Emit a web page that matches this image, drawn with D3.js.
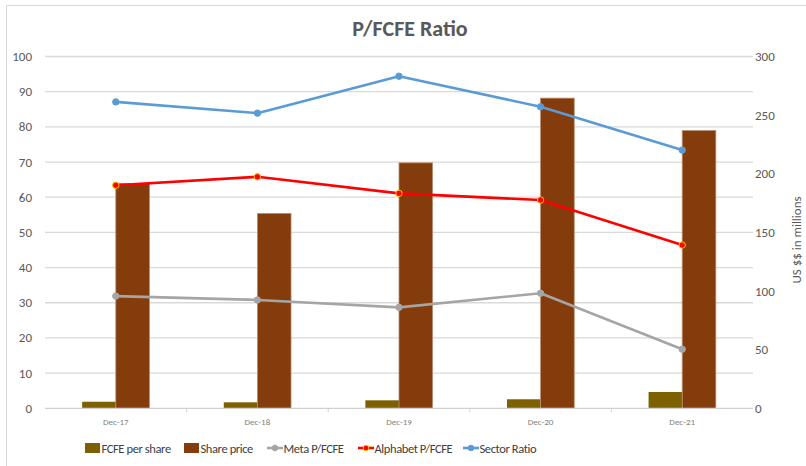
<!DOCTYPE html>
<html lang="en">
<head>
<meta charset="UTF-8"/>
<title>P/FCFE Ratio</title>
<script src="https://d3js.org/d3.v7.min.js"></script>
<style>
  body { margin: 0; background: #fff; }
  text { font-family: Carlito, "Liberation Sans Narrow", "Open Sans", sans-serif; }
</style>
</head>
<body>
<script>
// ***Data***
var categories = ["Dec-17", "Dec-18", "Dec-19", "Dec-20", "Dec-21"];
var fcfePerShare = [5.6, 5.1, 6.8, 7.7, 13.9];         // right axis
var sharePrice = [191.8, 166.2, 209.3, 264.5, 236.9];  // right axis
var metaRatio = [31.9, 30.8, 28.7, 32.7, 16.8];        // left axis
var alphabetRatio = [63.4, 65.8, 61.1, 59.2, 46.4];
var sectorRatio = [87.1, 83.9, 94.4, 85.7, 73.4];
var leftTicks = [0, 10, 20, 30, 40, 50, 60, 70, 80, 90, 100];
var rightTicks = [0, 50, 100, 150, 200, 250, 300];

var w = 806, h = 466;
var plotLeft = 45, plotRight = 753, plotTop = 56.5, plotBottom = 408.3;

var svg = d3.select("body").append("svg")
	.attr("width", w)
	.attr("height", h);

// chart border (top + left visible)
svg.append("path")
	.attr("d", "M6.5," + h + "V5.5H" + w)
	.attr("fill", "none")
	.attr("stroke", "#d9d9d9");

var x0 = d3.scaleBand().domain(categories).range([plotLeft, plotRight]).padding(0);
var barGroup = x0.bandwidth() * 0.475;
var x1 = d3.scaleBand().domain(["fcfe", "price"]).range([-barGroup / 2, barGroup / 2]);
var yL = d3.scaleLinear().domain([0, 100]).range([plotBottom, plotTop]);
var yR = d3.scaleLinear().domain([0, 300]).range([plotBottom, plotTop]);

// gridlines
svg.append("g").selectAll("line")
	.data(leftTicks.filter(function(d) { return d > 0; }))
	.enter().append("line")
	.attr("x1", plotLeft).attr("x2", plotRight)
	.attr("y1", function(d) { return yL(d); })
	.attr("y2", function(d) { return yL(d); })
	.attr("stroke", "#d9d9d9")
	.attr("stroke-width", 1.3);

// left axis labels
svg.append("g").selectAll("text")
	.data(leftTicks)
	.enter().append("text")
	.attr("x", 32)
	.attr("y", function(d) { return yL(d) + 4.5; })
	.attr("text-anchor", "end")
	.attr("font-size", 13)
	.attr("fill", "#595959")
	.text(function(d) { return d; });

// right axis labels
svg.append("g").selectAll("text")
	.data(rightTicks)
	.enter().append("text")
	.attr("x", 755)
	.attr("y", function(d) { return yR(d) + 4.5; })
	.attr("text-anchor", "start")
	.attr("font-size", 13)
	.attr("fill", "#595959")
	.text(function(d) { return d; });

svg.append("text")
	.attr("transform", "translate(801,240) rotate(-90)")
	.attr("text-anchor", "middle")
	.attr("font-size", 13)
	.attr("fill", "#595959")
	.text("US $$ in millions");

// bars
var bars = svg.append("g");
bars.selectAll("rect.fcfe")
	.data(fcfePerShare)
	.enter().append("rect")
	.attr("class", "fcfe")
	.attr("x", function(d, i) { return x0(categories[i]) + x0.bandwidth() / 2 + x1("fcfe"); })
	.attr("width", x1.bandwidth())
	.attr("y", function(d) { return yR(d); })
	.attr("height", function(d) { return plotBottom - yR(d); })
	.attr("fill", "#7f6000");

bars.selectAll("rect.price")
	.data(sharePrice)
	.enter().append("rect")
	.attr("class", "price")
	.attr("x", function(d, i) { return x0(categories[i]) + x0.bandwidth() / 2 + x1("price"); })
	.attr("width", x1.bandwidth())
	.attr("y", function(d) { return yR(d); })
	.attr("height", function(d) { return plotBottom - yR(d); })
	.attr("fill", "#843c0c")
	.attr("stroke", "#b98f73")
	.attr("stroke-width", 0.8);

// x axis
svg.append("line")
	.attr("x1", plotLeft).attr("x2", plotRight)
	.attr("y1", plotBottom).attr("y2", plotBottom)
	.attr("stroke", "#d0d0d0").attr("stroke-width", 1.3);
svg.append("g").selectAll("line")
	.data(categories.slice(1))
	.enter().append("line")
	.attr("x1", function(d) { return x0(d); })
	.attr("x2", function(d) { return x0(d); })
	.attr("y1", plotBottom).attr("y2", plotBottom + 4)
	.attr("stroke", "#d0d0d0");
svg.append("g").selectAll("text")
	.data(categories)
	.enter().append("text")
	.attr("x", function(d) { return x0(d) + x0.bandwidth() / 2; })
	.attr("y", 425)
	.attr("text-anchor", "middle")
	.attr("font-size", 9)
	.attr("fill", "#7f7f7f")
	.text(function(d) { return d; });

// lines
var series = [
	{ name: "Meta P/FCFE", values: metaRatio, color: "#a5a5a5", marker: "#a5a5a5" },
	{ name: "Alphabet P/FCFE", values: alphabetRatio, color: "#ff0000", marker: "#ffc000" },
	{ name: "Sector Ratio", values: sectorRatio, color: "#5b9bd5", marker: "#5b9bd5" }
];
var line = d3.line()
	.x(function(d, i) { return x0(categories[i]) + x0.bandwidth() / 2; })
	.y(function(d) { return yL(d); });

series.forEach(function(s) {
	svg.append("path")
		.datum(s.values)
		.attr("d", line)
		.attr("fill", "none")
		.attr("stroke", s.color)
		.attr("stroke-width", 2.6)
		.attr("stroke-linejoin", "round");
	svg.append("g").selectAll("circle")
		.data(s.values)
		.enter().append("circle")
		.attr("cx", function(d, i) { return x0(categories[i]) + x0.bandwidth() / 2; })
		.attr("cy", function(d) { return yL(d); })
		.attr("r", 3.2)
		.attr("fill", s.color)
		.attr("stroke", s.marker)
		.attr("stroke-width", 1);
});

// title
svg.append("text")
	.attr("x", 410)
	.attr("y", 36)
	.attr("text-anchor", "middle")
	.attr("font-size", 22)
	.attr("font-weight", "bold")
	.attr("fill", "#595959")
	.text("P/FCFE Ratio");

// legend
var legendItems = [
	{ name: "FCFE per share", type: "rect", color: "#7f6000", x: 85 },
	{ name: "Share price", type: "rect", color: "#843c0c", x: 184 },
	{ name: "Meta P/FCFE", type: "line", color: "#a5a5a5", marker: "#a5a5a5", x: 267 },
	{ name: "Alphabet P/FCFE", type: "line", color: "#ff0000", marker: "#ffc000", x: 358 },
	{ name: "Sector Ratio", type: "line", color: "#5b9bd5", marker: "#5b9bd5", x: 463 }
];
var lg = svg.append("g").selectAll("g")
	.data(legendItems)
	.enter().append("g")
	.attr("transform", function(d) { return "translate(" + d.x + ",448)"; });
lg.filter(function(d) { return d.type === "rect"; })
	.append("rect")
	.attr("x", 0).attr("y", -5)
	.attr("width", 15).attr("height", 10)
	.attr("fill", function(d) { return d.color; });
lg.filter(function(d) { return d.type === "line"; })
	.append("line")
	.attr("x1", 0).attr("x2", 16)
	.attr("y1", 0).attr("y2", 0)
	.attr("stroke", function(d) { return d.color; })
	.attr("stroke-width", 2.6);
lg.filter(function(d) { return d.type === "line"; })
	.append("circle")
	.attr("cx", 8).attr("cy", 0).attr("r", 2.8)
	.attr("fill", function(d) { return d.color; })
	.attr("stroke", function(d) { return d.marker; });
lg.append("text")
	.attr("x", 16.5)
	.attr("y", 5)
	.attr("font-size", 12.5)
	.attr("letter-spacing", -0.4)
	.attr("fill", "#404040")
	.text(function(d) { return d.name; });
</script>
</body>
</html>
